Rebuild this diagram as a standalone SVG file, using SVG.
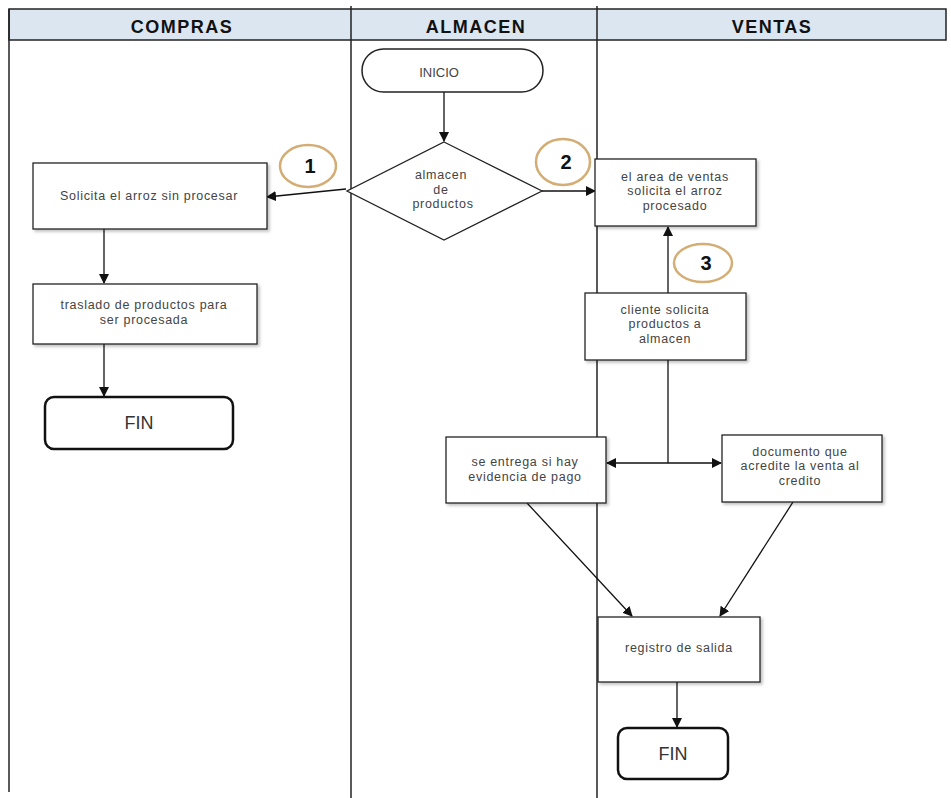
<svg xmlns="http://www.w3.org/2000/svg" width="951" height="798" viewBox="0 0 951 798">
<style>
.lane{stroke:#222;stroke-width:1.5;fill:none}
.hdr{font-family:"Liberation Sans",Arial,sans-serif;font-weight:bold;font-size:18px;letter-spacing:1.5px;fill:#111;text-anchor:middle}
.box{fill:#fff;stroke:#222;stroke-width:1.3;filter:url(#sh)}
.term{fill:#fff;stroke:#111;stroke-width:2.5}
.t{font-family:"Liberation Sans",Arial,sans-serif;font-size:12.5px;letter-spacing:0.7px;fill:#444;text-anchor:middle}
.tb{font-family:"Liberation Sans",Arial,sans-serif;font-size:18px;fill:#333;text-anchor:middle}
.num{font-family:"Liberation Sans",Arial,sans-serif;font-size:20px;font-weight:bold;fill:#111;text-anchor:middle}
.badge{fill:#fff;stroke:#d3ad74;stroke-width:2.5}
.c{stroke:#111;stroke-width:1.3;fill:none;marker-end:url(#ah)}
.cn{stroke:#111;stroke-width:1.3;fill:none}
</style>
<defs>
<marker id="ah" markerWidth="10" markerHeight="10" refX="9" refY="5" orient="auto" markerUnits="userSpaceOnUse">
<path d="M0,0 L10,5 L0,10 z" fill="#111"/>
</marker>
<filter id="sh" x="-10%" y="-10%" width="125%" height="130%">
<feDropShadow dx="2" dy="2" stdDeviation="1.5" flood-color="#000" flood-opacity="0.25"/>
</filter>
</defs>
<rect width="951" height="798" fill="#fff"/>
<g id="lanes">
<rect x="9" y="9" width="937" height="31" fill="#dce6f1" stroke="#222" stroke-width="1.5"/>
<line class="lane" x1="9" y1="9" x2="9" y2="792"/>
<line class="lane" x1="351" y1="6" x2="351" y2="798"/>
<line class="lane" x1="597" y1="6" x2="597" y2="798"/>
<text class="hdr" x="182" y="33">COMPRAS</text>
<text class="hdr" x="476" y="33">ALMACEN</text>
<text class="hdr" x="772" y="33">VENTAS</text>
</g>
<g id="connectors">
<line class="c" x1="444" y1="92" x2="444" y2="141"/>
<line class="c" x1="346" y1="189" x2="267" y2="197"/>
<line class="c" x1="542" y1="191" x2="595" y2="191"/>
<line class="c" x1="104" y1="229" x2="104" y2="283"/>
<line class="c" x1="104" y1="344" x2="104" y2="396"/>
<line class="c" x1="668" y1="293" x2="668" y2="227"/>
<line class="cn" x1="668" y1="360" x2="668" y2="463"/>
<line class="c" x1="668" y1="463" x2="607" y2="463"/>
<line class="c" x1="668" y1="463" x2="721" y2="463"/>
<line class="c" x1="527" y1="503" x2="632" y2="616"/>
<line class="c" x1="793" y1="502" x2="720" y2="616"/>
<line class="c" x1="677" y1="682" x2="677" y2="727"/>
</g>
<g id="inicio">
<rect x="362" y="49" width="181" height="43" rx="21.5" fill="#fff" stroke="#222" stroke-width="1.5"/>
<text class="t" x="439" y="77" style="font-size:13px;letter-spacing:0">INICIO</text>
</g>
<g id="almacen">
<polygon points="444,142 542,191 444,240 347,191" fill="#fff" stroke="#222" stroke-width="1.3"/>
<text class="t" x="441" y="179">almacen</text>
<text class="t" x="441" y="193.5">de</text>
<text class="t" x="443" y="208">productos</text>
</g>
<g id="solicita">
<rect class="box" x="33" y="163" width="234" height="66"/>
<text class="t" x="149" y="200">Solicita el arroz sin procesar</text>
</g>
<g id="traslado">
<rect class="box" x="33" y="284" width="224" height="60"/>
<text class="t" x="144" y="309">traslado de productos para</text>
<text class="t" x="144" y="323.5">ser procesada</text>
</g>
<g id="fin1">
<rect class="term" x="45" y="397" width="188" height="52" rx="9"/>
<text class="tb" x="139" y="429">FIN</text>
</g>
<g id="area">
<rect class="box" x="595" y="159" width="161" height="67"/>
<text class="t" x="675" y="180.5">el area de ventas</text>
<text class="t" x="675" y="195">solicita el arroz</text>
<text class="t" x="675" y="209.5">procesado</text>
</g>
<g id="cliente">
<rect class="box" x="585" y="293" width="161" height="67"/>
<text class="t" x="665" y="313.5">cliente solicita</text>
<text class="t" x="665" y="328">productos a</text>
<text class="t" x="665" y="342.5">almacen</text>
</g>
<g id="entrega">
<rect class="box" x="446" y="437" width="160" height="66"/>
<text class="t" x="525" y="466">se entrega si hay</text>
<text class="t" x="525" y="480.5">evidencia de pago</text>
</g>
<g id="documento">
<rect class="box" x="722" y="435" width="160" height="67"/>
<text class="t" x="800" y="455.5">documento que</text>
<text class="t" x="800" y="470">acredite la venta al</text>
<text class="t" x="800" y="484.5">credito</text>
</g>
<g id="registro">
<rect class="box" x="598" y="617" width="162" height="65"/>
<text class="t" x="679" y="652">registro de salida</text>
</g>
<g id="fin2">
<rect class="term" x="618" y="728" width="110" height="51" rx="9"/>
<text class="tb" x="673" y="760">FIN</text>
</g>
<g id="badge1">
<ellipse class="badge" cx="308" cy="166" rx="28" ry="21"/>
<text class="num" x="310" y="173">1</text>
</g>
<g id="badge2">
<ellipse class="badge" cx="563" cy="162" rx="27" ry="23"/>
<text class="num" x="566" y="169">2</text>
</g>
<g id="badge3">
<ellipse class="badge" cx="703" cy="263" rx="29" ry="19"/>
<text class="num" x="706" y="270">3</text>
</g>
</svg>
